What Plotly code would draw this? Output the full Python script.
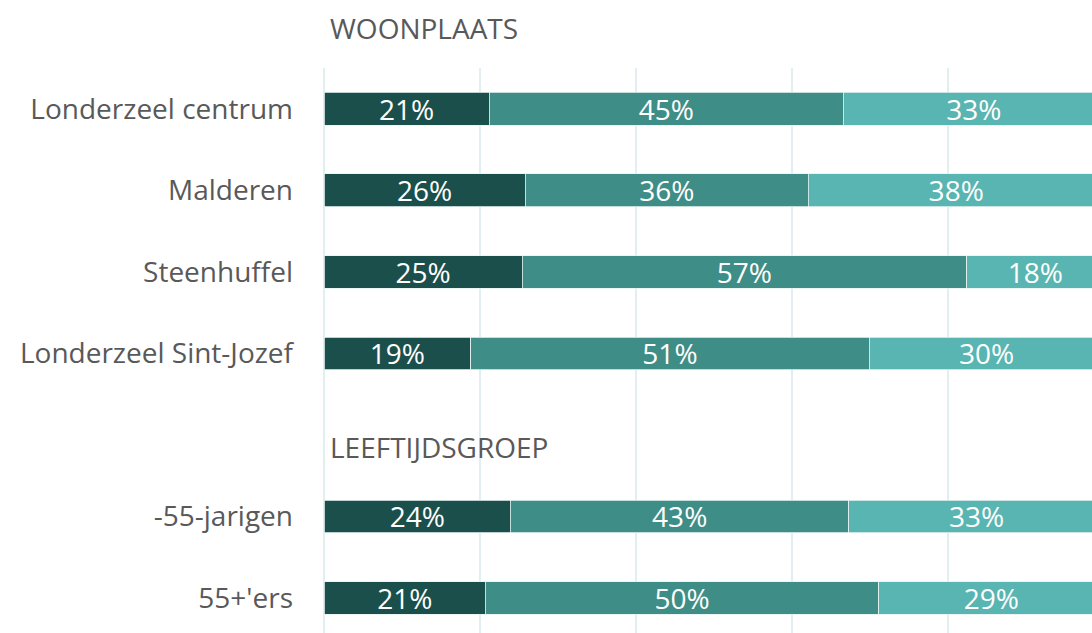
import plotly.graph_objects as go

categories = ["Londerzeel centrum", "Malderen", "Steenhuffel", "Londerzeel Sint-Jozef",
              "-55-jarigen", "55+'ers"]
row_pos = [0, 1, 2, 3, 5, 6]
series_names = ["Deel 1", "Deel 2", "Deel 3"]
s1 = [21.2, 25.8, 25.4, 18.8, 23.9, 20.7]
s2 = [45.4, 36.3, 57.0, 51.1, 43.4, 50.4]
s3 = [33.4, 37.9, 17.6, 30.1, 32.7, 28.9]
headers = ["WOONPLAATS", "LEEFTIJDSGROEP"]

colors = ["#1b4f4c", "#3f8d87", "#59b5b1"]
FONT = "Open Sans"
GREY = "#595959"

fig = go.Figure()
for name, vals, col in zip(series_names, [s1, s2, s3], colors):
    fig.add_trace(go.Bar(
        y=row_pos, x=vals, orientation="h", name=name,
        marker=dict(color=col, line=dict(color="#e6f2f1", width=0.8)),
        texttemplate="%{x:.0f}%", textposition="inside",
        insidetextanchor="middle", textangle=0, constraintext="none",
        textfont=dict(family=FONT, size=28, color="white"),
        width=0.4, showlegend=False, hoverinfo="skip",
    ))

# section headers
fig.add_annotation(x=0, y=1, xref="x", yref="paper", text=headers[0], showarrow=False,
                   xanchor="left", yanchor="middle", xshift=4, yshift=40,
                   font=dict(family=FONT, size=28, color=GREY))
fig.add_annotation(x=0, y=4, xref="x", yref="y", text=headers[1], showarrow=False,
                   xanchor="left", yanchor="middle", xshift=4, yshift=-12,
                   font=dict(family=FONT, size=28, color=GREY))

fig.update_layout(
    barmode="stack", width=1092, height=633,
    margin=dict(l=324, r=0, t=68, b=0),
    plot_bgcolor="white", paper_bgcolor="white",
    hovermode=False,
)
fig.update_xaxes(range=[0, 98.46], tick0=0, dtick=20, showticklabels=False,
                 showgrid=True, gridcolor="#e2eff1", gridwidth=1.5,
                 zeroline=True, zerolinecolor="#e2eff1", zerolinewidth=1.5, showline=False)
fig.update_yaxes(range=[6.43, -0.5], tickvals=row_pos, ticktext=categories,
                 showgrid=False, zeroline=False, showline=False, ticks="",
                 ticklabelstandoff=30,
                 tickfont=dict(family=FONT, size=28, color=GREY))

fig.write_html("out.html", config={"displayModeBar": False},
               post_script="document.body.style.margin='0';")
